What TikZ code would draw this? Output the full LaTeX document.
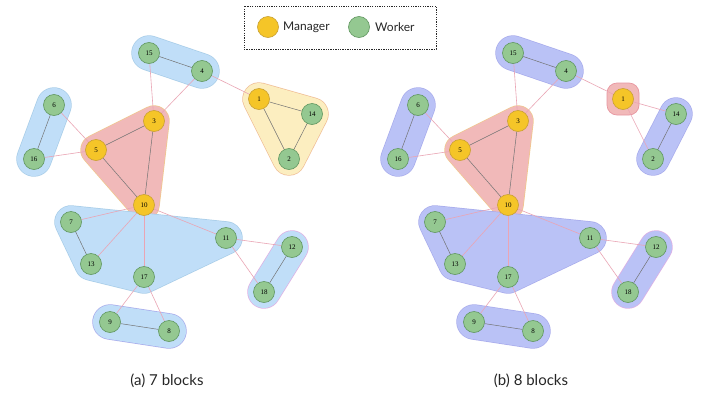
\documentclass[tikz,border=0pt]{standalone}
\usepackage{fontspec}
\setmainfont{Lato}
\newfontfamily\numfont{Liberation Serif}
\pgfdeclarelayer{hulls}
\pgfdeclarelayer{edges}
\pgfsetlayers{hulls,edges,main}
\definecolor{mgrfill}{RGB}{245,197,40}
\definecolor{mgrdraw}{RGB}{200,160,50}
\definecolor{wkfill}{RGB}{148,200,145}
\definecolor{wkdraw}{RGB}{95,150,95}
\definecolor{bluefill}{RGB}{192,222,248}
\definecolor{blueline}{RGB}{168,205,232}
\definecolor{perifill}{RGB}{186,194,246}
\definecolor{periline}{RGB}{168,172,236}
\definecolor{redfill}{RGB}{241,185,185}
\definecolor{redline}{RGB}{240,200,140}
\definecolor{redline2}{RGB}{232,150,160}
\definecolor{yelfill}{RGB}{252,238,192}
\definecolor{yelline}{RGB}{240,190,150}
\definecolor{pinkline}{RGB}{222,175,228}
\definecolor{intra}{RGB}{115,115,115}
\definecolor{inter}{RGB}{234,165,180}
\tikzset{
  nd/.style={circle, line width=0.6pt, minimum size=21pt, inner sep=0pt,
    font=\numfont\fontsize{7}{8}\selectfont},
  mgr/.style={nd, draw=mgrdraw, fill=mgrfill},
  wk/.style={nd, draw=wkdraw, fill=wkfill},
  ie/.style={draw=intra, line width=0.5pt},
  xe/.style={draw=inter, line width=0.6pt},
}
\newcommand\myhull[4]{%
  \pgfmathsetmacro\hullw{2*#3}%
  \pgfmathsetmacro\hullb{2*#3+1.4}%
  \draw[draw=#2, line width=\hullb pt, line join=round, line cap=round] #4 -- cycle;
  \filldraw[fill=#1, draw=#1, line width=\hullw pt, line join=round, line cap=round] #4 -- cycle;
}
\newcommand\placenodes[1]{%
  \node[mgr] (#1-1) at (259,99) {1};
  \node[wk] (#1-2) at (289,159) {2};
  \node[mgr] (#1-3) at (154,121) {3};
  \node[wk] (#1-4) at (202,71) {4};
  \node[mgr] (#1-5) at (96,150) {5};
  \node[wk] (#1-6) at (54,105) {6};
  \node[wk] (#1-7) at (71,222) {7};
  \node[wk] (#1-8) at (169,331) {8};
  \node[wk] (#1-9) at (110,322) {9};
  \node[mgr] (#1-10) at (144,205) {10};
  \node[wk] (#1-11) at (226,238) {11};
  \node[wk] (#1-12) at (292,247) {12};
  \node[wk] (#1-13) at (91,264) {13};
  \node[wk] (#1-14) at (312,114) {14};
  \node[wk] (#1-15) at (149,53) {15};
  \node[wk] (#1-16) at (34,159) {16};
  \node[wk] (#1-17) at (144,277) {17};
  \node[wk] (#1-18) at (264,292) {18};
}
\newcommand\placeedges[2]{%
  \draw[ie] (#1-15) -- (#1-4);
  \draw[xe] (#1-15) -- (#1-3);
  \draw[xe] (#1-4) -- (#1-3);
  \draw[xe] (#1-4) -- (#1-1);
  \draw[#2] (#1-1) -- (#1-14);
  \draw[#2] (#1-1) -- (#1-2);
  \draw[ie] (#1-14) -- (#1-2);
  \draw[ie] (#1-3) -- (#1-5);
  \draw[ie] (#1-3) -- (#1-10);
  \draw[ie] (#1-5) -- (#1-10);
  \draw[xe] (#1-5) -- (#1-6);
  \draw[xe] (#1-5) -- (#1-16);
  \draw[ie] (#1-6) -- (#1-16);
  \draw[xe] (#1-10) -- (#1-7);
  \draw[xe] (#1-10) -- (#1-13);
  \draw[xe] (#1-10) -- (#1-17);
  \draw[xe] (#1-10) -- (#1-11);
  \draw[ie] (#1-7) -- (#1-13);
  \draw[xe] (#1-11) -- (#1-12);
  \draw[xe] (#1-11) -- (#1-18);
  \draw[ie] (#1-12) -- (#1-18);
  \draw[xe] (#1-17) -- (#1-9);
  \draw[xe] (#1-17) -- (#1-8);
  \draw[ie] (#1-9) -- (#1-8);
}
\begin{document}
\begin{tikzpicture}[x=1pt,y=-1pt]
\useasboundingbox (0,0) rectangle (702,394);
% nodes
\placenodes{a}
\begin{scope}[xshift=364pt]
\placenodes{b}
\end{scope}
% edges
\begin{pgfonlayer}{edges}
\placeedges{a}{ie}
\placeedges{b}{xe}
\end{pgfonlayer}
% hulls
\begin{pgfonlayer}{hulls}
\fill[white] (0,0) rectangle (702,394);
% panel (a)
\myhull{bluefill}{blueline}{17}{(a-15.center) -- (a-4.center)}
\myhull{bluefill}{blueline}{17}{(a-6.center) -- (a-16.center)}
\myhull{yelfill}{yelline}{16}{(a-1.center) -- (a-14.center) -- (a-2.center)}
\myhull{redfill}{redline}{15}{(a-3.center) -- (a-5.center) -- (a-10.center)}
\myhull{bluefill}{blueline}{16}{(a-7.center) -- (a-13.center) -- (a-17.center) -- (a-11.center)}
\myhull{bluefill}{pinkline}{16}{(a-12.center) -- (a-18.center)}
\myhull{bluefill}{periline}{17}{(a-9.center) -- (a-8.center)}
% panel (b)
\myhull{perifill}{periline}{17}{(b-15.center) -- (b-4.center)}
\myhull{perifill}{periline}{17}{(b-6.center) -- (b-16.center)}
\myhull{perifill}{periline}{16}{(b-14.center) -- (b-2.center)}
\filldraw[fill=redfill, draw=redline2, line width=0.7pt, rounded corners=10pt]
  (b-1.center) ++(-16,-16) rectangle ++(32,32);
\myhull{redfill}{redline}{15}{(b-3.center) -- (b-5.center) -- (b-10.center)}
\myhull{perifill}{periline}{16}{(b-7.center) -- (b-13.center) -- (b-17.center) -- (b-11.center)}
\myhull{perifill}{pinkline}{16}{(b-12.center) -- (b-18.center)}
\myhull{perifill}{periline}{17}{(b-9.center) -- (b-8.center)}
\end{pgfonlayer}
% legend
\node[draw=black!85, line width=0.6pt, dash pattern=on 1.3pt off 1.1pt,
  minimum width=192pt, minimum height=43pt, inner sep=0pt] (legend) at (340,27.5) {};
\node[mgr] (lm) at (268,27) {};
\node[anchor=west, font=\fontsize{12}{14}\selectfont, text=black!85, inner sep=0pt] (lmt) at (283,27) {Manager};
\node[wk] (lw) at (359,27) {};
\node[anchor=west, font=\fontsize{12}{14}\selectfont, text=black!85, inner sep=0pt] (lwt) at (375,27) {Worker};
% captions
\node[font=\fontsize{15}{17}\selectfont, text=black!85] (capa) at (167,381) {(a) 7 blocks};
\node[font=\fontsize{15}{17}\selectfont, text=black!85] (capb) at (531,381) {(b) 8 blocks};
\end{tikzpicture}
\end{document}
